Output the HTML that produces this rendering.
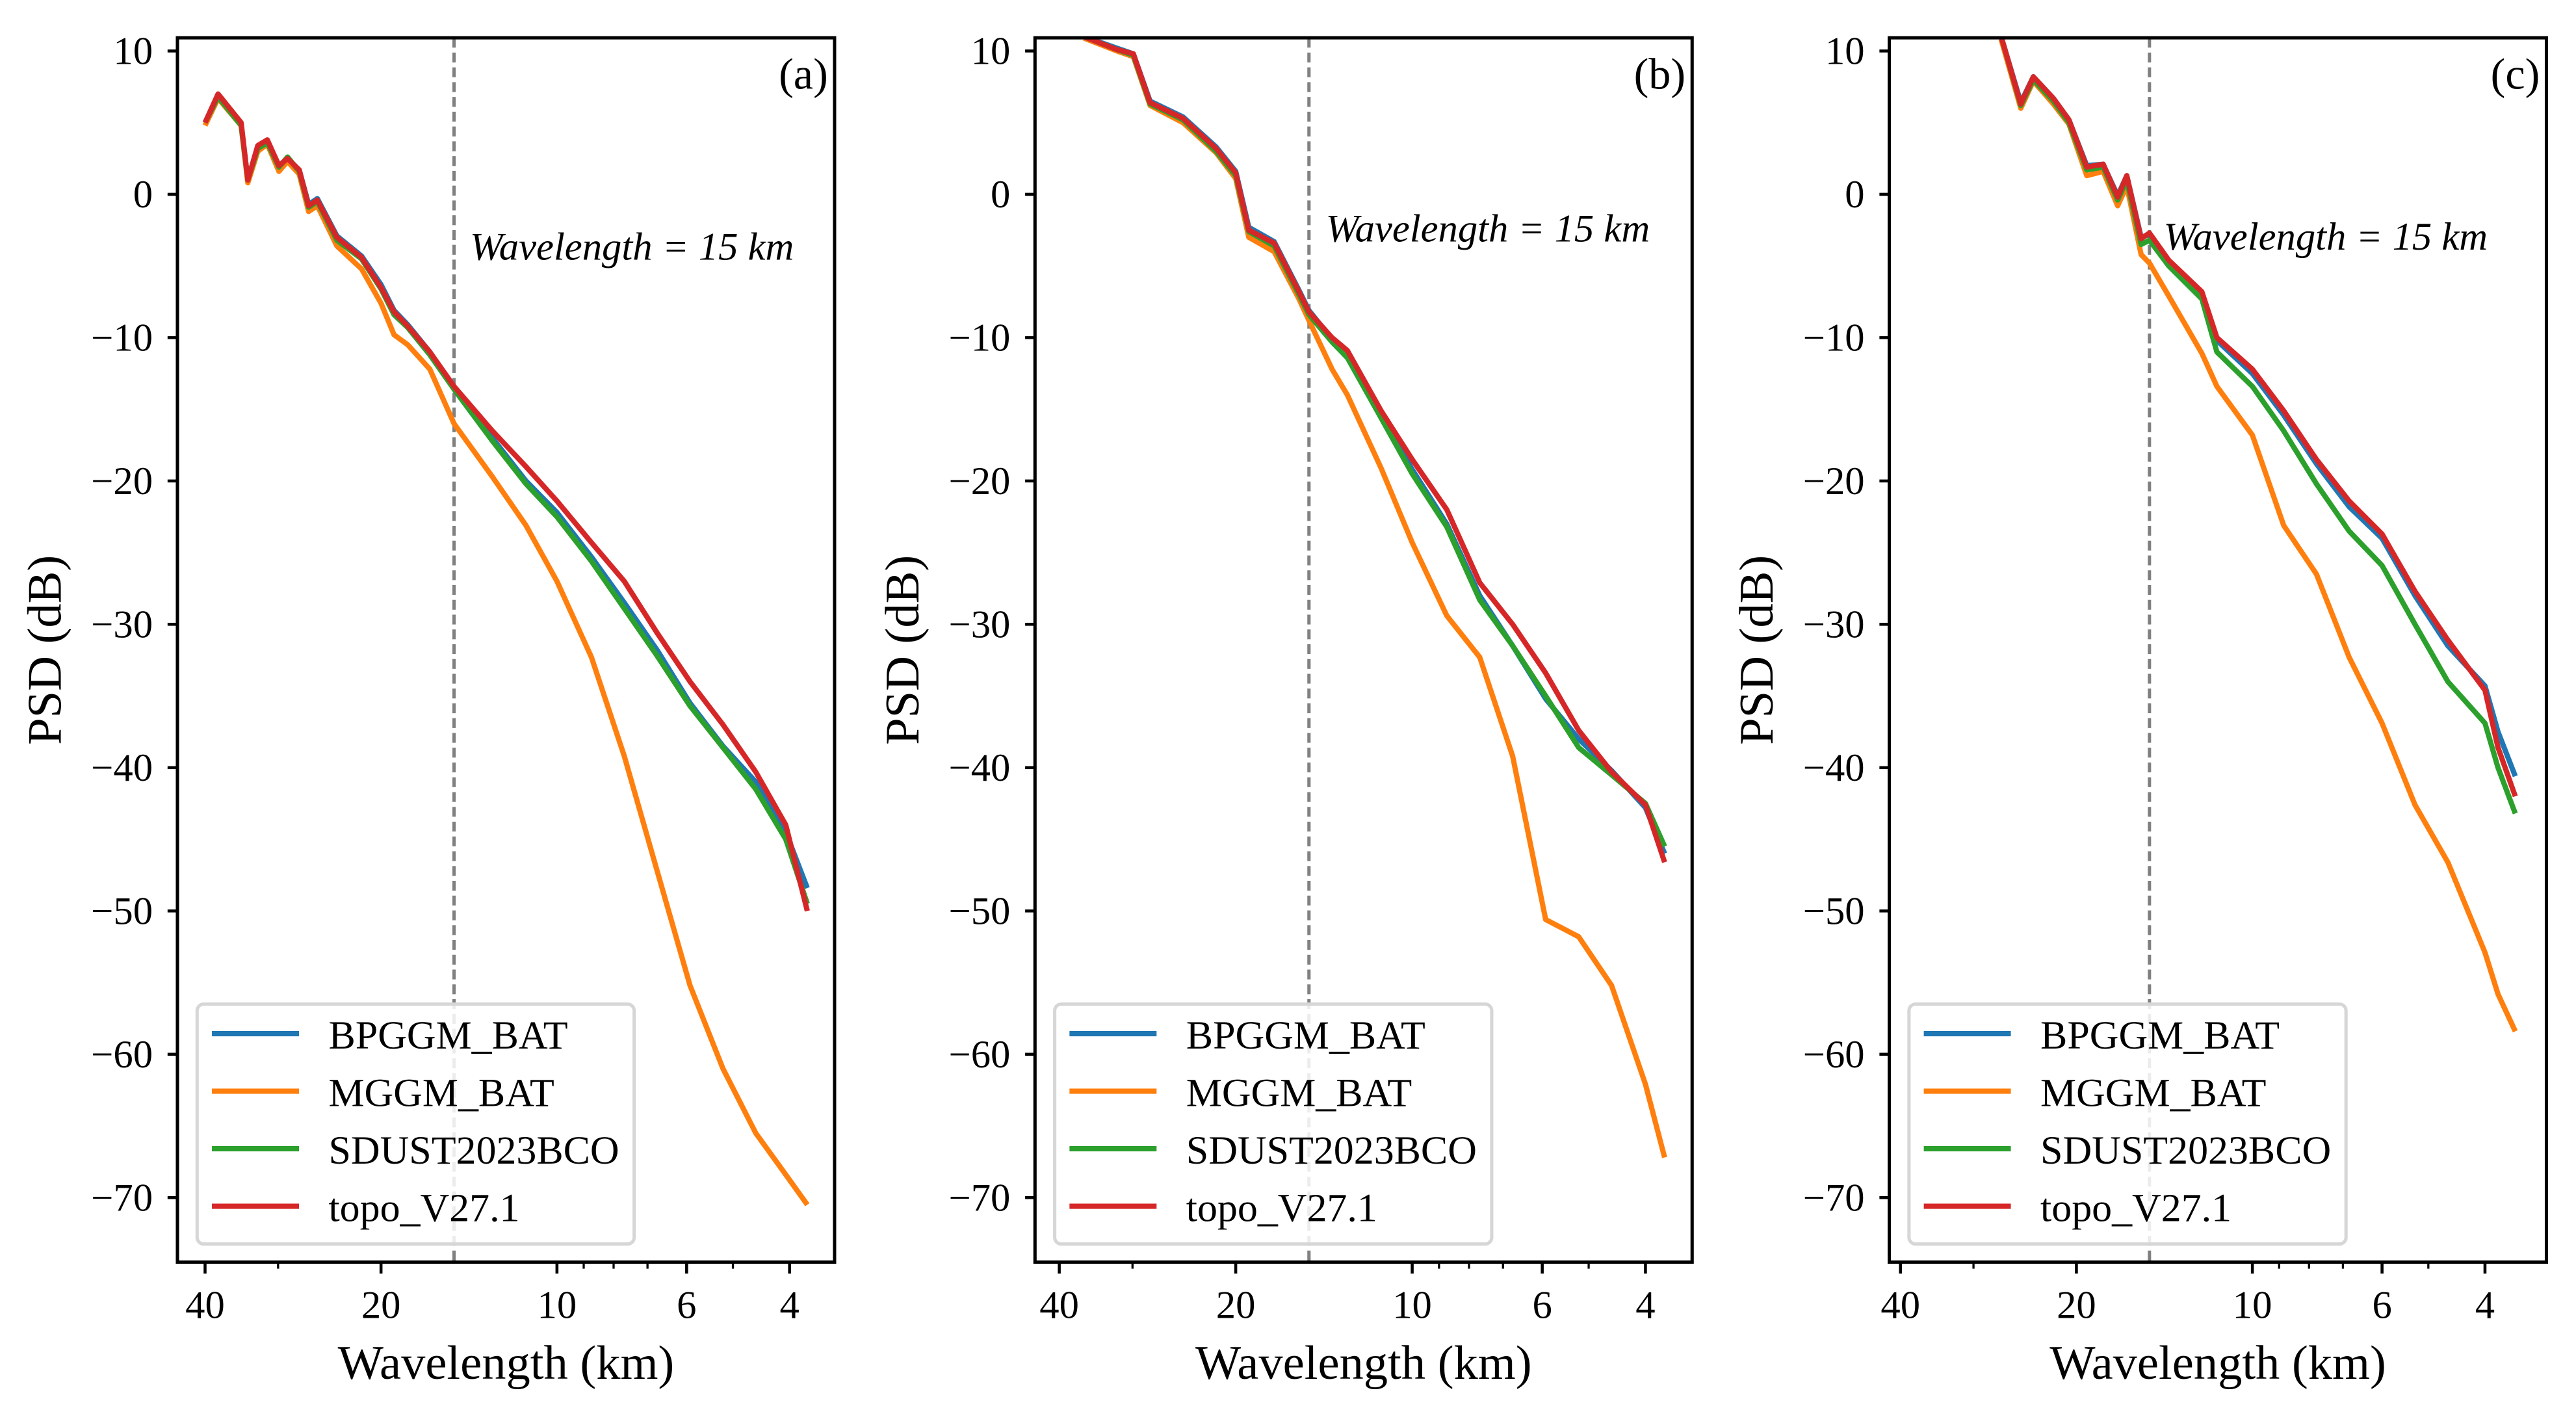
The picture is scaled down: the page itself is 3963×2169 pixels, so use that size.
<!DOCTYPE html>
<html><head><meta charset="utf-8"><style>
html,body{margin:0;padding:0;background:#fff;}
svg{display:block;font-family:"Liberation Serif",serif;}
</style></head><body>
<svg id="fig" width="3963" height="2169" viewBox="0 0 1568 858" preserveAspectRatio="none" xmlns="http://www.w3.org/2000/svg"></svg>
<script>
const seriesNames = ["BPGGM_BAT","MGGM_BAT","SDUST2023BCO","topo_V27.1"];
const seriesColors = ["#1f77b4","#ff7f0e","#2ca02c","#d62728"];
const yTicks = [10,0,-10,-20,-30,-40,-50,-60,-70];
const xTicks = [40,20,10,6,4];
const xMinor = [30,9,8,7,5];
const panelLabels = ["(a)","(b)","(c)"];

// Panel (a)
const lamA = [40,38.0,34.7,33.8,32.5,31.3,29.9,28.9,27.6,26.6,25.7,23.8,21.6,20,19.0,18.0,16.5,15.0,12.9,11.3,10,8.73,7.67,6.74,5.92,5.20,4.57,4.06,3.73];
const redA = [5,7,5,1,3.4,3.8,2,2.5,1.7,-0.8,-0.4,-3,-4.4,-6.5,-8.2,-9.2,-11,-13.4,-16.5,-19,-21.4,-24.3,-27,-30.6,-34,-37,-40.3,-44,-50];
const greenA = [5,6.8,4.8,1,3.2,3.6,1.9,2.6,1.6,-0.9,-0.5,-3.2,-4.5,-6.6,-8.4,-9.3,-11.2,-13.6,-17.2,-20.2,-22.5,-25.6,-28.9,-32.2,-35.7,-38.6,-41.5,-45,-49.5];
const blueA = [5,6.9,4.9,1,3.3,3.7,2,2.5,1.7,-0.7,-0.3,-2.9,-4.3,-6.3,-8.1,-9.1,-11,-13.5,-17,-20,-22.2,-25.3,-28.5,-31.8,-35.5,-38.5,-41,-44.5,-48.4];
const orangeA = [4.8,6.7,4.8,0.8,3,3.5,1.6,2.3,1.4,-1.2,-0.8,-3.6,-5.2,-7.6,-9.8,-10.5,-12.2,-16,-19.7,-23.1,-27,-32.3,-39.2,-47.2,-55.2,-61,-65.5,-68.4,-70.5];

// Panel (b)
const lamB = [36.3,31.9,29.9,28.0,24.6,21.6,20,19.0,17.2,15.6,15,13.7,12.9,11.3,10,8.73,7.67,6.74,5.92,5.20,4.57,4,3.71];
const redB = [11,10.1,9.8,6.4,5.3,3.2,1.5,-2.5,-3.4,-6.8,-8.2,-10,-10.9,-15.1,-18.5,-22,-27.1,-30,-33.4,-37.4,-40.3,-42.6,-46.6];
const greenB = [11,10.1,9.7,6.3,5.2,3,1.3,-2.6,-3.6,-7,-8.4,-10.3,-11.4,-15.6,-19.5,-23.2,-28.3,-31.5,-35,-38.6,-40.5,-42.5,-45.5];
const blueB = [11,10.2,9.8,6.5,5.4,3.3,1.6,-2.3,-3.3,-6.7,-8.1,-10.1,-11.2,-15.4,-19.2,-23,-28,-31.5,-35.2,-38,-40.2,-42.8,-46];
const orangeB = [10.9,10,9.6,6.2,5,2.9,1.1,-3,-4,-7.3,-8.8,-12.2,-14,-19.1,-24.3,-29.4,-32.3,-39.2,-50.6,-51.8,-55.2,-62.1,-67.2];

// Panel (c)
const lamC = [26.9,24.9,23.7,21.9,20.6,19.2,18.0,17.0,16.4,15.5,15,13.9,12.2,11.5,10,8.84,7.77,6.83,6,5.27,4.63,4,3.80,3.55];
const redC = [11,6.3,8.2,6.7,5.2,1.9,2.1,-0.2,1.3,-3.1,-2.7,-4.6,-6.8,-10,-12.2,-15.1,-18.5,-21.4,-23.7,-27.7,-31.1,-34.6,-38.6,-42];
const greenC = [11,6.2,8,6.5,5,1.7,1.9,-0.4,1,-3.5,-3.2,-5,-7.3,-11,-13.4,-16.5,-20.2,-23.5,-25.9,-30,-34,-36.9,-40,-43.2];
const blueC = [11,6.4,8.2,6.7,5.2,2,2.1,-0.1,1.3,-3,-2.8,-4.8,-7,-10.2,-12.5,-15.4,-18.8,-21.8,-24,-28,-31.5,-34.3,-37.5,-40.6];
const orangeC = [10.8,6,7.9,6.3,4.9,1.3,1.6,-0.8,0.6,-4.2,-4.8,-7.1,-11.1,-13.4,-16.8,-23.1,-26.5,-32.3,-36.9,-42.6,-46.6,-52.9,-55.8,-58.4];

const panels = [
  {left:108,right:508,top:23,bottom:768,xmin:44.6,xmax:3.35,lam:lamA,vals:[blueA,orangeA,greenA,redA],ann:[286,150],name:"panel-a"},
  {left:630,right:1030,top:23,bottom:768,xmin:44.0,xmax:3.33,lam:lamB,vals:[blueB,orangeB,greenB,redB],ann:[807,139],name:"panel-b"},
  {left:1150,right:1550,top:23,bottom:768,xmin:41.8,xmax:3.14,lam:lamC,vals:[blueC,orangeC,greenC,redC],ann:[1317,144],name:"panel-c"}
];
const YMAX = 10.92, YMIN = -74.5;
const NS = "http://www.w3.org/2000/svg";
const svg = document.getElementById('fig');
function mk(tag, attrs, parent){const e=document.createElementNS(NS,tag);for(const k in attrs)e.setAttribute(k,attrs[k]);(parent||svg).appendChild(e);return e;}

panels.forEach((p,pi)=>{
  const g = mk('g',{});
  
  
  const xs = l => p.left + (Math.log(p.xmin/l)/Math.log(p.xmin/p.xmax))*(p.right-p.left);
  const ys = v => p.top + (YMAX - v)/(YMAX-YMIN)*(p.bottom-p.top);
  const cid = 'clip'+pi;
  const cp = mk('clipPath',{id:cid},g);
  mk('rect',{x:p.left,y:p.top,width:p.right-p.left,height:p.bottom-p.top},cp);
  const dl = mk('line',{x1:xs(15),x2:xs(15),y1:p.top,y2:p.bottom,stroke:'#808080','stroke-width':2,'stroke-dasharray':'6,3'},g);
  
  
  p.vals.forEach((vals,si)=>{
    const d = vals.map((v,i)=>(i?'L':'M')+xs(p.lam[i]).toFixed(2)+','+ys(v).toFixed(2)).join(' ');
    const path = mk('path',{d:d,fill:'none',stroke:seriesColors[si],'stroke-width':3.2,'stroke-linejoin':'round','clip-path':'url(#'+cid+')'},g);
    
    
  });
  const fr = mk('rect',{x:p.left,y:p.top,width:p.right-p.left,height:p.bottom-p.top,fill:'none',stroke:'#000','stroke-width':2},g);
  
  
  yTicks.forEach(t=>{
    const y = ys(t);
    mk('line',{x1:p.left-6,x2:p.left,y1:y,y2:y,stroke:'#000','stroke-width':1.8},g);
    const tx = mk('text',{x:p.left-15,y:y+8,'text-anchor':'end','font-size':24},g);
    tx.textContent = t<0 ? '\u2212'+Math.abs(t) : String(t);
    
    
  });
  xTicks.forEach(t=>{
    const x = xs(t);
    mk('line',{x1:x,x2:x,y1:p.bottom,y2:p.bottom+7,stroke:'#000','stroke-width':1.8},g);
    const tx = mk('text',{x:x,y:p.bottom+34,'text-anchor':'middle','font-size':24},g);
    tx.textContent = String(t);
    
    
  });
  xMinor.forEach(t=>{
    const x = xs(t);
    mk('line',{x1:x,x2:x,y1:p.bottom,y2:p.bottom+4,stroke:'#000','stroke-width':1.3},g);
  });
  const xl = mk('text',{x:(p.left+p.right)/2,y:839,'text-anchor':'middle','font-size':29.5},g);
  xl.textContent = 'Wavelength (km)';
  
  
  const ylx = p.left-71, yly = (p.top+p.bottom)/2;
  const yl = mk('text',{x:ylx,y:yly,'text-anchor':'middle','font-size':29.5,transform:'rotate(-90 '+ylx+' '+yly+')'},g);
  yl.textContent = 'PSD (dB)';
  
  
  const pl = mk('text',{x:p.right-4,y:p.top+31,'text-anchor':'end','font-size':27},g);
  pl.textContent = panelLabels[pi];
  
  
  const an = mk('text',{x:p.ann[0],y:p.ann[1]+8,'font-size':24,'font-style':'italic'},g);
  an.textContent = 'Wavelength = 15 km';
  
  
  const lg = mk('g',{},g);
  
  
  const lx = p.left+12;
  mk('rect',{x:lx,y:611,width:266,height:146,rx:4,fill:'#fff','fill-opacity':0.85,stroke:'#d6d6d6','stroke-width':2},lg);
  seriesNames.forEach((n,si)=>{
    const yy = 629+si*35;
    const le = mk('g',{},lg);
    
    
    mk('line',{x1:lx+9,x2:lx+62,y1:yy,y2:yy,stroke:seriesColors[si],'stroke-width':3.2},le);
    const t = mk('text',{x:lx+80,y:yy+9,'font-size':24.5},le);
    t.textContent = n;
  });
});
</script>
</body></html>
